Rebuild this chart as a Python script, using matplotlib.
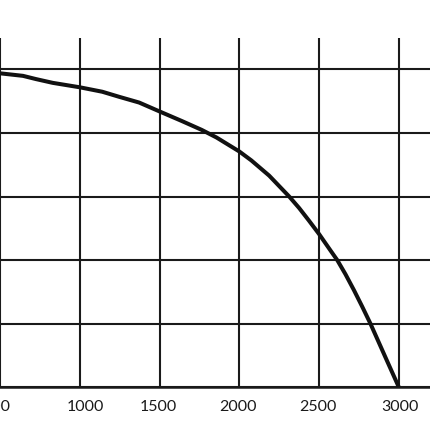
import matplotlib
matplotlib.use("Agg")
import matplotlib.pyplot as plt
from matplotlib.transforms import ScaledTranslation

# values
flow = [500, 644, 724, 830, 1000, 1141, 1247, 1372, 1500, 1639, 1764, 1857, 2000,
        2075, 2187, 2313, 2375, 2437, 2500, 2572, 2614, 2665, 2718, 2770, 2822, 2925, 3000]
head = [4.94, 4.90, 4.85, 4.79, 4.72, 4.65, 4.57, 4.48, 4.34, 4.19, 4.05, 3.93, 3.71,
        3.57, 3.33, 3.00, 2.82, 2.62, 2.41, 2.15, 2.00, 1.78, 1.53, 1.27, 1.00, 0.42, 0.0]

xticks = [500, 1000, 1500, 2000, 2500, 3000]
yticks = [0, 1, 2, 3, 4, 5]

plt.rcParams["font.family"] = ["Lato", "DejaVu Sans"]

fig = plt.figure(figsize=(4.3, 4.3), dpi=100)
ax = fig.add_axes([0, 0.0993, 1, 0.8130])

ax.plot(flow, head, color="#111111", lw=2.9, solid_capstyle="butt",
        solid_joinstyle="round", zorder=3)

ax.set_xlim(519, 3195)
ax.set_ylim(0, 5.5)
ax.set_xticks(xticks)
ax.set_yticks(yticks)
ax.grid(True, color="#1a1a1a", lw=1.5)
ax.set_axisbelow(True)

for s in ["top", "left", "right"]:
    ax.spines[s].set_visible(False)
ax.spines["bottom"].set_color("#1a1a1a")
ax.spines["bottom"].set_linewidth(1.8)

ax.tick_params(axis="x", length=0, pad=9.5, labelsize=11.5, colors="#1a1a1a")
ax.tick_params(axis="y", length=0, labelleft=False)

# the labels in the original sit a little off their grid lines
nudge = [-3.5, 6, -1, -1, -1, 1.5]
for lab, dx in zip(ax.get_xticklabels(), nudge):
    lab.set_transform(lab.get_transform() + ScaledTranslation(dx / 100, 0, fig.dpi_scale_trans))

fig.savefig("out.png", dpi=100)
